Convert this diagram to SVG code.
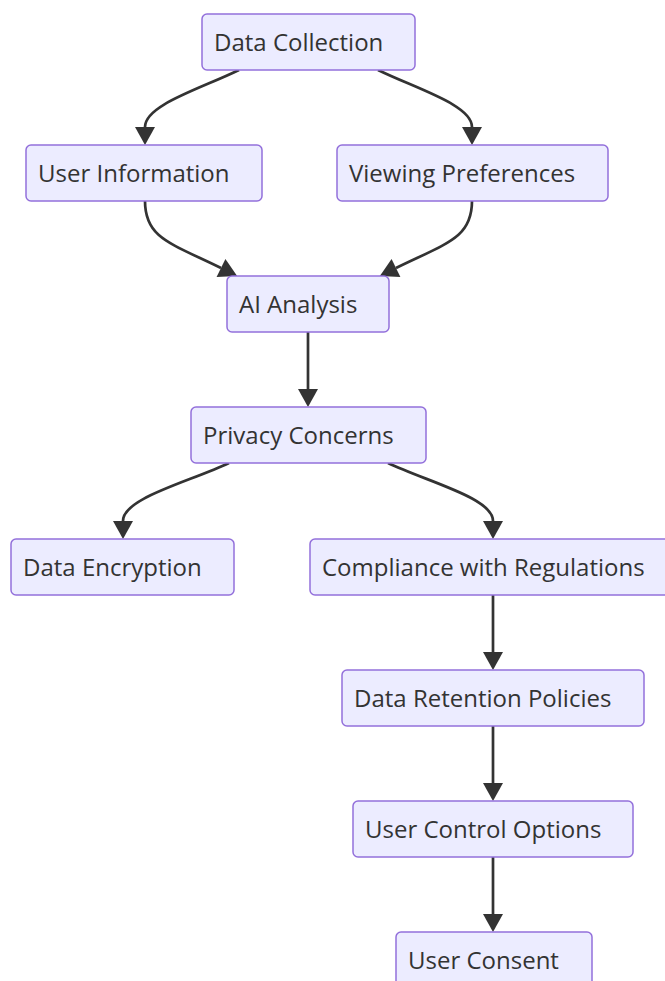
<svg xmlns="http://www.w3.org/2000/svg" width="665" height="981" viewBox="0 0 665 981">
<style>
.node rect{fill:#ECECFF;stroke:#9370DB;stroke-width:1.5}
.node text{font-family:"Open Sans","Noto Sans","Liberation Sans",sans-serif;font-size:24px;fill:#333}
.edge{fill:none;stroke:#333;stroke-width:2.7}
</style>
<defs>
<marker id="arr" markerUnits="userSpaceOnUse" markerWidth="18" markerHeight="20" refX="0" refY="10" orient="auto" overflow="visible">
<path d="M0,0 L18,10 L0,20 z" fill="#333"/>
</marker>
</defs>
<rect width="665" height="981" fill="#fff"/>
<g id="edges">
<path class="edge" d="M239,70 C200,89 145,105 145,127" marker-end="url(#arr)"/>
<path class="edge" d="M378,70 C417,89 472,105 472,127" marker-end="url(#arr)"/>
<path class="edge" d="M145,201 C145,238 170,243 221,268" marker-end="url(#arr)"/>
<path class="edge" d="M472,201 C472,238 447,243 396,268" marker-end="url(#arr)"/>
<path class="edge" d="M308,332 L308,389" marker-end="url(#arr)"/>
<path class="edge" d="M229,463 C189,482 123,498 123,521" marker-end="url(#arr)"/>
<path class="edge" d="M388,463 C428,482 493,498 493,521" marker-end="url(#arr)"/>
<path class="edge" d="M493,595 L493,652" marker-end="url(#arr)"/>
<path class="edge" d="M493,726 L493,783" marker-end="url(#arr)"/>
<path class="edge" d="M493,857 L493,914" marker-end="url(#arr)"/>
</g>
<g id="dataCollection" class="node"><rect x="202" y="14" width="213" height="56" rx="5"/><text x="214" y="51">Data Collection</text></g>
<g id="userInformation" class="node"><rect x="26" y="145" width="236" height="56" rx="5"/><text x="38" y="182">User Information</text></g>
<g id="viewingPreferences" class="node"><rect x="337" y="145" width="271" height="56" rx="5"/><text x="349" y="182">Viewing Preferences</text></g>
<g id="aiAnalysis" class="node"><rect x="227" y="276" width="162" height="56" rx="5"/><text x="239" y="313">AI Analysis</text></g>
<g id="privacyConcerns" class="node"><rect x="191" y="407" width="235" height="56" rx="5"/><text x="203" y="444">Privacy Concerns</text></g>
<g id="dataEncryption" class="node"><rect x="11" y="539" width="223" height="56" rx="5"/><text x="23" y="576">Data Encryption</text></g>
<g id="compliance" class="node"><rect x="310" y="539" width="360" height="56" rx="5"/><text x="322" y="576">Compliance with Regulations</text></g>
<g id="dataRetention" class="node"><rect x="342" y="670" width="302" height="56" rx="5"/><text x="354" y="707">Data Retention Policies</text></g>
<g id="userControl" class="node"><rect x="353" y="801" width="280" height="56" rx="5"/><text x="365" y="838">User Control Options</text></g>
<g id="userConsent" class="node"><rect x="396" y="932" width="196" height="56" rx="5"/><text x="408" y="969">User Consent</text></g>
</svg>
